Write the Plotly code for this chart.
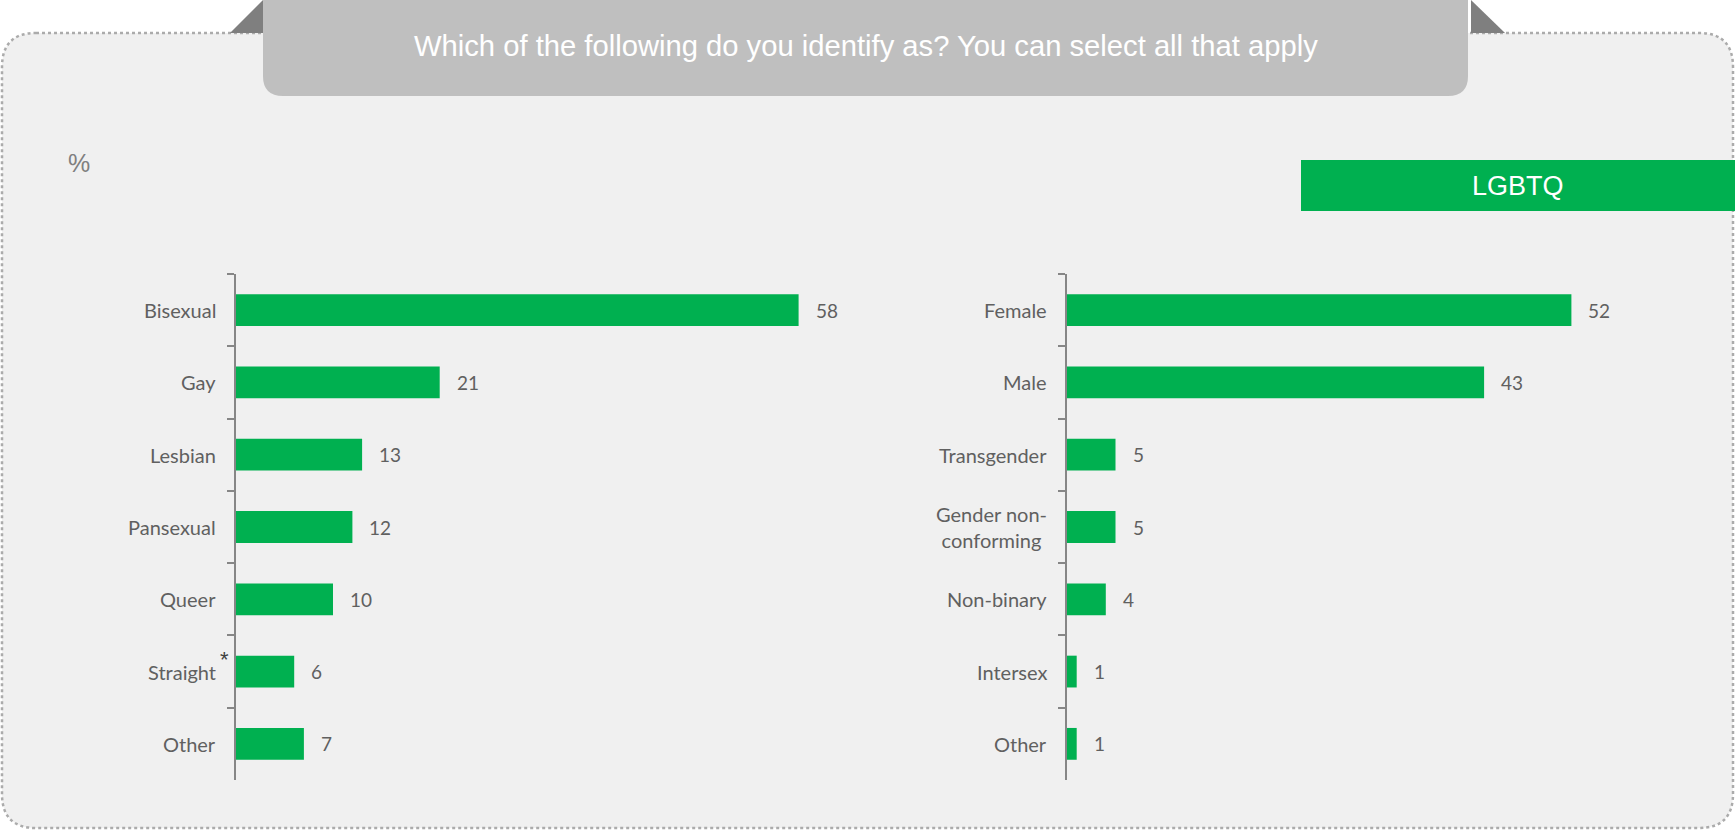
import plotly.graph_objects as go

# Survey responses (%)
orientation_labels = ["Bisexual", "Gay", "Lesbian", "Pansexual", "Queer", "Straight", "Other"]
orientation_values = [58, 21, 13, 12, 10, 6, 7]

gender_labels = ["Female", "Male", "Transgender", "Gender non-conforming", "Non-binary", "Intersex", "Other"]
gender_values = [52, 43, 5, 5, 4, 1, 1]
gender_tick_text = ["Female", "Male", "Transgender", "Gender non-<br>conforming", "Non-binary", "Intersex", "Other"]

title_text = "Which of the following do you identify as? You can select all that apply"
unit_text = "%"
group_text = "LGBTQ"

W, H = 1735, 831
GREEN = "#00B050"
LABEL_GREY = "#606060"
AXIS_GREY = "#868686"
LABEL_FONT = "Lato"
HEAD_FONT = "Liberation Sans"


def px(x):
    return x / W


def py(y):
    return 1 - y / H


def rounded_rect(x0, y0, x1, y1, r, top=True, bottom=True):
    """SVG path (paper coords) for a rectangle given in pixels with rounded corners."""
    rt = r if top else 0
    rb = r if bottom else 0
    pts = [
        f"M {px(x0 + rt)},{py(y0)}",
        f"L {px(x1 - rt)},{py(y0)}",
        f"Q {px(x1)},{py(y0)} {px(x1)},{py(y0 + rt)}",
        f"L {px(x1)},{py(y1 - rb)}",
        f"Q {px(x1)},{py(y1)} {px(x1 - rb)},{py(y1)}",
        f"L {px(x0 + rb)},{py(y1)}",
        f"Q {px(x0)},{py(y1)} {px(x0)},{py(y1 - rb)}",
        f"L {px(x0)},{py(y0 + rt)}",
        f"Q {px(x0)},{py(y0)} {px(x0 + rt)},{py(y0)}",
        "Z",
    ]
    return " ".join(pts)


fig = go.Figure()

fig.add_trace(go.Bar(
    x=orientation_values, y=orientation_labels, orientation="h",
    marker=dict(color=GREEN, line=dict(width=0)), width=0.44,
    xaxis="x", yaxis="y", hoverinfo="x+y", showlegend=False,
))
fig.add_trace(go.Bar(
    x=gender_values, y=gender_labels, orientation="h",
    marker=dict(color=GREEN, line=dict(width=0)), width=0.44,
    xaxis="x2", yaxis="y2", hoverinfo="x+y", showlegend=False,
))

PX_PER_UNIT = 9.7
X_MAX = 60
left_axis_px, right_axis_px = 236, 1067
y_top_px, y_bot_px = 274, 780

x_common = dict(range=[0, X_MAX], visible=False, fixedrange=True)
y_common = dict(
    type="category", range=[6.5, -0.5], domain=[py(y_bot_px), py(y_top_px)],
    tickson="boundaries", ticks="outside", ticklen=7, tickwidth=2, tickcolor=AXIS_GREY,
    showline=True, linecolor=AXIS_GREY, linewidth=2,
    showticklabels=False, showgrid=False, zeroline=False, fixedrange=True,
)

fig.update_layout(
    width=W, height=H,
    margin=dict(l=0, r=0, t=0, b=0),
    paper_bgcolor="white",
    plot_bgcolor="rgba(0,0,0,0)",
    bargap=0.56,
    xaxis=dict(domain=[px(left_axis_px), px(left_axis_px + PX_PER_UNIT * X_MAX)], anchor="y", **x_common),
    xaxis2=dict(domain=[px(right_axis_px), px(right_axis_px + PX_PER_UNIT * X_MAX)], anchor="y2", **x_common),
    yaxis=dict(anchor="x", categoryorder="array", categoryarray=orientation_labels, **y_common),
    yaxis2=dict(anchor="x2", categoryorder="array", categoryarray=gender_labels, **y_common),
)

shapes = []
# light grey panel with dotted rounded border
shapes.append(dict(
    type="path", xref="paper", yref="paper", layer="below",
    path=rounded_rect(2, 33, 1733, 828, 34),
    fillcolor="#F0F0F0", line=dict(color="#ABABAB", width=2.5, dash="dot"),
))
# folded tab corners beside the heading
shapes.append(dict(
    type="path", xref="paper", yref="paper", layer="below",
    path=f"M {px(230)},{py(33)} L {px(263)},{py(0)} L {px(263)},{py(33)} Z",
    fillcolor="#7F7F7F", line=dict(width=0),
))
shapes.append(dict(
    type="path", xref="paper", yref="paper", layer="below",
    path=f"M {px(1471)},{py(0)} L {px(1471)},{py(33)} L {px(1505)},{py(33)} Z",
    fillcolor="#7F7F7F", line=dict(width=0),
))
# heading tab
shapes.append(dict(
    type="path", xref="paper", yref="paper", layer="below",
    path=rounded_rect(263, -2, 1468, 96, 20, top=False, bottom=True),
    fillcolor="#BFBFBF", line=dict(width=0),
))
# group banner
shapes.append(dict(
    type="rect", xref="paper", yref="paper", layer="below",
    x0=px(1301), x1=px(1735), y0=py(211), y1=py(160),
    fillcolor=GREEN, line=dict(width=0),
))

annotations = [
    dict(text=title_text, x=px(866), y=py(46), xref="paper", yref="paper",
         xanchor="center", yanchor="middle", showarrow=False,
         font=dict(family=HEAD_FONT, size=29.2, color="white")),
    dict(text=unit_text, x=px(79), y=py(163), xref="paper", yref="paper",
         xanchor="center", yanchor="middle", showarrow=False,
         font=dict(family=HEAD_FONT, size=25, color="#7F7F7F")),
    dict(text=group_text, x=px(1518), y=py(186), xref="paper", yref="paper",
         xanchor="center", yanchor="middle", showarrow=False,
         font=dict(family=HEAD_FONT, size=27, color="white")),
]

panels = [
    ("x", "y", orientation_labels, orientation_labels, orientation_values),
    ("x2", "y2", gender_labels, gender_tick_text, gender_values),
]
for xr, yr, cats, texts, vals in panels:
    for cat, txt, val in zip(cats, texts, vals):
        annotations.append(dict(
            text=txt, x=0, y=cat, xref=f"{xr} domain", yref=yr,
            xanchor="right", yanchor="middle", xshift=-18, align="center",
            showarrow=False, font=dict(family=LABEL_FONT, size=20, color=LABEL_GREY),
        ))
        annotations.append(dict(
            text=str(val), x=val, y=cat, xref=xr, yref=yr,
            xanchor="left", yanchor="middle", xshift=15,
            showarrow=False, font=dict(family=LABEL_FONT, size=19, color=LABEL_GREY),
        ))

# footnote marker on the "Straight" label
annotations.append(dict(
    text="*", x=0, y="Straight", xref="x domain", yref="y",
    xanchor="center", yanchor="middle", xshift=-12, yshift=12,
    showarrow=False, font=dict(family=HEAD_FONT, size=22, color="#404040"),
))

fig.update_layout(shapes=shapes, annotations=annotations)

fig.write_html("out.html", config={"displayModeBar": False})
